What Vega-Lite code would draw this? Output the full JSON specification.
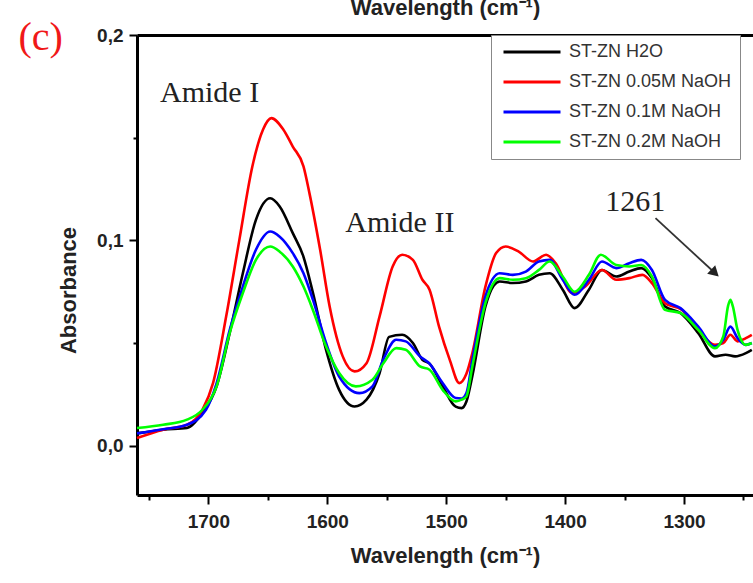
{
  "$schema": "https://vega.github.io/schema/vega-lite/v6.json",
  "autosize": {"type": "none"},
  "padding": {"left": 137, "top": 35, "right": 0, "bottom": 88},
  "width": 616,
  "height": 460,
  "background": "white",
  "config": {"view": {"stroke": null}},
  "datasets": {
    "spectra": [
      {"s": "ST-ZN H2O", "w": 1760, "a": 0.006}, {"s": "ST-ZN H2O", "w": 1738, "a": 0.0078}, {"s": "ST-ZN H2O", "w": 1718, "a": 0.0086}, {"s": "ST-ZN H2O", "w": 1705, "a": 0.016}, {"s": "ST-ZN H2O", "w": 1693, "a": 0.029}, {"s": "ST-ZN H2O", "w": 1682, "a": 0.055}, {"s": "ST-ZN H2O", "w": 1671, "a": 0.084}, {"s": "ST-ZN H2O", "w": 1660, "a": 0.11}, {"s": "ST-ZN H2O", "w": 1648, "a": 0.1205}, {"s": "ST-ZN H2O", "w": 1640, "a": 0.1165}, {"s": "ST-ZN H2O", "w": 1629, "a": 0.1035}, {"s": "ST-ZN H2O", "w": 1620, "a": 0.092}, {"s": "ST-ZN H2O", "w": 1612, "a": 0.0743}, {"s": "ST-ZN H2O", "w": 1601, "a": 0.0467}, {"s": "ST-ZN H2O", "w": 1590, "a": 0.0272}, {"s": "ST-ZN H2O", "w": 1577, "a": 0.0191}, {"s": "ST-ZN H2O", "w": 1567, "a": 0.0224}, {"s": "ST-ZN H2O", "w": 1556, "a": 0.0354}, {"s": "ST-ZN H2O", "w": 1548, "a": 0.053}, {"s": "ST-ZN H2O", "w": 1537, "a": 0.054}, {"s": "ST-ZN H2O", "w": 1528, "a": 0.05}, {"s": "ST-ZN H2O", "w": 1520, "a": 0.0418}, {"s": "ST-ZN H2O", "w": 1514, "a": 0.04}, {"s": "ST-ZN H2O", "w": 1503, "a": 0.029}, {"s": "ST-ZN H2O", "w": 1492, "a": 0.019}, {"s": "ST-ZN H2O", "w": 1487, "a": 0.0183}, {"s": "ST-ZN H2O", "w": 1483, "a": 0.0215}, {"s": "ST-ZN H2O", "w": 1478, "a": 0.034}, {"s": "ST-ZN H2O", "w": 1467, "a": 0.0678}, {"s": "ST-ZN H2O", "w": 1460, "a": 0.078}, {"s": "ST-ZN H2O", "w": 1455, "a": 0.08}, {"s": "ST-ZN H2O", "w": 1444, "a": 0.0792}, {"s": "ST-ZN H2O", "w": 1433, "a": 0.08}, {"s": "ST-ZN H2O", "w": 1422, "a": 0.0832}, {"s": "ST-ZN H2O", "w": 1413, "a": 0.084}, {"s": "ST-ZN H2O", "w": 1402, "a": 0.076}, {"s": "ST-ZN H2O", "w": 1392, "a": 0.067}, {"s": "ST-ZN H2O", "w": 1380, "a": 0.076}, {"s": "ST-ZN H2O", "w": 1369, "a": 0.0856}, {"s": "ST-ZN H2O", "w": 1357, "a": 0.0824}, {"s": "ST-ZN H2O", "w": 1346, "a": 0.0848}, {"s": "ST-ZN H2O", "w": 1336, "a": 0.0865}, {"s": "ST-ZN H2O", "w": 1327, "a": 0.0816}, {"s": "ST-ZN H2O", "w": 1316, "a": 0.0678}, {"s": "ST-ZN H2O", "w": 1303, "a": 0.0646}, {"s": "ST-ZN H2O", "w": 1288, "a": 0.0548}, {"s": "ST-ZN H2O", "w": 1274, "a": 0.0435}, {"s": "ST-ZN H2O", "w": 1265, "a": 0.0443}, {"s": "ST-ZN H2O", "w": 1257, "a": 0.0435}, {"s": "ST-ZN H2O", "w": 1248, "a": 0.0451}, {"s": "ST-ZN H2O", "w": 1243, "a": 0.0467},

      {"s": "ST-ZN 0.05M NaOH", "w": 1760, "a": 0.0037}, {"s": "ST-ZN 0.05M NaOH", "w": 1738, "a": 0.0078}, {"s": "ST-ZN 0.05M NaOH", "w": 1718, "a": 0.0102}, {"s": "ST-ZN 0.05M NaOH", "w": 1705, "a": 0.0175}, {"s": "ST-ZN 0.05M NaOH", "w": 1696, "a": 0.0306}, {"s": "ST-ZN 0.05M NaOH", "w": 1685, "a": 0.063}, {"s": "ST-ZN 0.05M NaOH", "w": 1674, "a": 0.1}, {"s": "ST-ZN 0.05M NaOH", "w": 1663, "a": 0.136}, {"s": "ST-ZN 0.05M NaOH", "w": 1654, "a": 0.154}, {"s": "ST-ZN 0.05M NaOH", "w": 1647, "a": 0.1595}, {"s": "ST-ZN 0.05M NaOH", "w": 1637, "a": 0.154}, {"s": "ST-ZN 0.05M NaOH", "w": 1629, "a": 0.1457}, {"s": "ST-ZN 0.05M NaOH", "w": 1620, "a": 0.136}, {"s": "ST-ZN 0.05M NaOH", "w": 1615, "a": 0.123}, {"s": "ST-ZN 0.05M NaOH", "w": 1606, "a": 0.0954}, {"s": "ST-ZN 0.05M NaOH", "w": 1598, "a": 0.0678}, {"s": "ST-ZN 0.05M NaOH", "w": 1587, "a": 0.0435}, {"s": "ST-ZN 0.05M NaOH", "w": 1577, "a": 0.0362}, {"s": "ST-ZN 0.05M NaOH", "w": 1567, "a": 0.0402}, {"s": "ST-ZN 0.05M NaOH", "w": 1556, "a": 0.063}, {"s": "ST-ZN 0.05M NaOH", "w": 1545, "a": 0.0873}, {"s": "ST-ZN 0.05M NaOH", "w": 1537, "a": 0.093}, {"s": "ST-ZN 0.05M NaOH", "w": 1528, "a": 0.0905}, {"s": "ST-ZN 0.05M NaOH", "w": 1520, "a": 0.0808}, {"s": "ST-ZN 0.05M NaOH", "w": 1514, "a": 0.076}, {"s": "ST-ZN 0.05M NaOH", "w": 1506, "a": 0.058}, {"s": "ST-ZN 0.05M NaOH", "w": 1497, "a": 0.0418}, {"s": "ST-ZN 0.05M NaOH", "w": 1489, "a": 0.0305}, {"s": "ST-ZN 0.05M NaOH", "w": 1483, "a": 0.035}, {"s": "ST-ZN 0.05M NaOH", "w": 1478, "a": 0.0451}, {"s": "ST-ZN 0.05M NaOH", "w": 1467, "a": 0.0775}, {"s": "ST-ZN 0.05M NaOH", "w": 1458, "a": 0.0938}, {"s": "ST-ZN 0.05M NaOH", "w": 1450, "a": 0.097}, {"s": "ST-ZN 0.05M NaOH", "w": 1439, "a": 0.0945}, {"s": "ST-ZN 0.05M NaOH", "w": 1427, "a": 0.0897}, {"s": "ST-ZN 0.05M NaOH", "w": 1416, "a": 0.093}, {"s": "ST-ZN 0.05M NaOH", "w": 1408, "a": 0.0889}, {"s": "ST-ZN 0.05M NaOH", "w": 1394, "a": 0.0743}, {"s": "ST-ZN 0.05M NaOH", "w": 1383, "a": 0.0775}, {"s": "ST-ZN 0.05M NaOH", "w": 1369, "a": 0.0856}, {"s": "ST-ZN 0.05M NaOH", "w": 1357, "a": 0.0808}, {"s": "ST-ZN 0.05M NaOH", "w": 1346, "a": 0.0816}, {"s": "ST-ZN 0.05M NaOH", "w": 1335, "a": 0.0832}, {"s": "ST-ZN 0.05M NaOH", "w": 1327, "a": 0.0792}, {"s": "ST-ZN 0.05M NaOH", "w": 1316, "a": 0.0694}, {"s": "ST-ZN 0.05M NaOH", "w": 1302, "a": 0.0662}, {"s": "ST-ZN 0.05M NaOH", "w": 1288, "a": 0.0564}, {"s": "ST-ZN 0.05M NaOH", "w": 1274, "a": 0.0491}, {"s": "ST-ZN 0.05M NaOH", "w": 1267, "a": 0.05}, {"s": "ST-ZN 0.05M NaOH", "w": 1261, "a": 0.054}, {"s": "ST-ZN 0.05M NaOH", "w": 1255, "a": 0.0508}, {"s": "ST-ZN 0.05M NaOH", "w": 1248, "a": 0.0524}, {"s": "ST-ZN 0.05M NaOH", "w": 1243, "a": 0.054},

      {"s": "ST-ZN 0.1M NaOH", "w": 1760, "a": 0.006}, {"s": "ST-ZN 0.1M NaOH", "w": 1738, "a": 0.008}, {"s": "ST-ZN 0.1M NaOH", "w": 1718, "a": 0.0102}, {"s": "ST-ZN 0.1M NaOH", "w": 1702, "a": 0.0175}, {"s": "ST-ZN 0.1M NaOH", "w": 1693, "a": 0.0305}, {"s": "ST-ZN 0.1M NaOH", "w": 1682, "a": 0.0564}, {"s": "ST-ZN 0.1M NaOH", "w": 1671, "a": 0.0775}, {"s": "ST-ZN 0.1M NaOH", "w": 1660, "a": 0.0954}, {"s": "ST-ZN 0.1M NaOH", "w": 1648, "a": 0.1043}, {"s": "ST-ZN 0.1M NaOH", "w": 1640, "a": 0.1018}, {"s": "ST-ZN 0.1M NaOH", "w": 1629, "a": 0.0938}, {"s": "ST-ZN 0.1M NaOH", "w": 1620, "a": 0.084}, {"s": "ST-ZN 0.1M NaOH", "w": 1612, "a": 0.071}, {"s": "ST-ZN 0.1M NaOH", "w": 1601, "a": 0.05}, {"s": "ST-ZN 0.1M NaOH", "w": 1590, "a": 0.0337}, {"s": "ST-ZN 0.1M NaOH", "w": 1573, "a": 0.0256}, {"s": "ST-ZN 0.1M NaOH", "w": 1562, "a": 0.0289}, {"s": "ST-ZN 0.1M NaOH", "w": 1553, "a": 0.0418}, {"s": "ST-ZN 0.1M NaOH", "w": 1542, "a": 0.0516}, {"s": "ST-ZN 0.1M NaOH", "w": 1534, "a": 0.0508}, {"s": "ST-ZN 0.1M NaOH", "w": 1522, "a": 0.0435}, {"s": "ST-ZN 0.1M NaOH", "w": 1514, "a": 0.04}, {"s": "ST-ZN 0.1M NaOH", "w": 1503, "a": 0.0305}, {"s": "ST-ZN 0.1M NaOH", "w": 1492, "a": 0.0232}, {"s": "ST-ZN 0.1M NaOH", "w": 1487, "a": 0.023}, {"s": "ST-ZN 0.1M NaOH", "w": 1483, "a": 0.0256}, {"s": "ST-ZN 0.1M NaOH", "w": 1478, "a": 0.0418}, {"s": "ST-ZN 0.1M NaOH", "w": 1467, "a": 0.0727}, {"s": "ST-ZN 0.1M NaOH", "w": 1455, "a": 0.084}, {"s": "ST-ZN 0.1M NaOH", "w": 1444, "a": 0.0832}, {"s": "ST-ZN 0.1M NaOH", "w": 1433, "a": 0.0848}, {"s": "ST-ZN 0.1M NaOH", "w": 1422, "a": 0.0897}, {"s": "ST-ZN 0.1M NaOH", "w": 1413, "a": 0.0905}, {"s": "ST-ZN 0.1M NaOH", "w": 1402, "a": 0.0808}, {"s": "ST-ZN 0.1M NaOH", "w": 1392, "a": 0.0735}, {"s": "ST-ZN 0.1M NaOH", "w": 1380, "a": 0.0808}, {"s": "ST-ZN 0.1M NaOH", "w": 1369, "a": 0.0897}, {"s": "ST-ZN 0.1M NaOH", "w": 1357, "a": 0.0865}, {"s": "ST-ZN 0.1M NaOH", "w": 1346, "a": 0.0889}, {"s": "ST-ZN 0.1M NaOH", "w": 1336, "a": 0.0905}, {"s": "ST-ZN 0.1M NaOH", "w": 1327, "a": 0.0856}, {"s": "ST-ZN 0.1M NaOH", "w": 1316, "a": 0.071}, {"s": "ST-ZN 0.1M NaOH", "w": 1303, "a": 0.067}, {"s": "ST-ZN 0.1M NaOH", "w": 1288, "a": 0.058}, {"s": "ST-ZN 0.1M NaOH", "w": 1274, "a": 0.0483}, {"s": "ST-ZN 0.1M NaOH", "w": 1267, "a": 0.0516}, {"s": "ST-ZN 0.1M NaOH", "w": 1261, "a": 0.058}, {"s": "ST-ZN 0.1M NaOH", "w": 1255, "a": 0.0524}, {"s": "ST-ZN 0.1M NaOH", "w": 1248, "a": 0.0491}, {"s": "ST-ZN 0.1M NaOH", "w": 1243, "a": 0.05},

      {"s": "ST-ZN 0.2M NaOH", "w": 1760, "a": 0.0086}, {"s": "ST-ZN 0.2M NaOH", "w": 1738, "a": 0.0102}, {"s": "ST-ZN 0.2M NaOH", "w": 1718, "a": 0.0127}, {"s": "ST-ZN 0.2M NaOH", "w": 1705, "a": 0.0175}, {"s": "ST-ZN 0.2M NaOH", "w": 1693, "a": 0.029}, {"s": "ST-ZN 0.2M NaOH", "w": 1682, "a": 0.055}, {"s": "ST-ZN 0.2M NaOH", "w": 1671, "a": 0.0743}, {"s": "ST-ZN 0.2M NaOH", "w": 1660, "a": 0.0905}, {"s": "ST-ZN 0.2M NaOH", "w": 1648, "a": 0.097}, {"s": "ST-ZN 0.2M NaOH", "w": 1640, "a": 0.0945}, {"s": "ST-ZN 0.2M NaOH", "w": 1629, "a": 0.0873}, {"s": "ST-ZN 0.2M NaOH", "w": 1620, "a": 0.0775}, {"s": "ST-ZN 0.2M NaOH", "w": 1612, "a": 0.066}, {"s": "ST-ZN 0.2M NaOH", "w": 1601, "a": 0.0483}, {"s": "ST-ZN 0.2M NaOH", "w": 1590, "a": 0.0354}, {"s": "ST-ZN 0.2M NaOH", "w": 1576, "a": 0.0289}, {"s": "ST-ZN 0.2M NaOH", "w": 1562, "a": 0.0321}, {"s": "ST-ZN 0.2M NaOH", "w": 1553, "a": 0.04}, {"s": "ST-ZN 0.2M NaOH", "w": 1542, "a": 0.0475}, {"s": "ST-ZN 0.2M NaOH", "w": 1534, "a": 0.0467}, {"s": "ST-ZN 0.2M NaOH", "w": 1522, "a": 0.0386}, {"s": "ST-ZN 0.2M NaOH", "w": 1514, "a": 0.037}, {"s": "ST-ZN 0.2M NaOH", "w": 1503, "a": 0.0272}, {"s": "ST-ZN 0.2M NaOH", "w": 1492, "a": 0.0216}, {"s": "ST-ZN 0.2M NaOH", "w": 1487, "a": 0.0224}, {"s": "ST-ZN 0.2M NaOH", "w": 1483, "a": 0.024}, {"s": "ST-ZN 0.2M NaOH", "w": 1478, "a": 0.0386}, {"s": "ST-ZN 0.2M NaOH", "w": 1467, "a": 0.0694}, {"s": "ST-ZN 0.2M NaOH", "w": 1455, "a": 0.0816}, {"s": "ST-ZN 0.2M NaOH", "w": 1444, "a": 0.0808}, {"s": "ST-ZN 0.2M NaOH", "w": 1433, "a": 0.0816}, {"s": "ST-ZN 0.2M NaOH", "w": 1422, "a": 0.0856}, {"s": "ST-ZN 0.2M NaOH", "w": 1413, "a": 0.0897}, {"s": "ST-ZN 0.2M NaOH", "w": 1402, "a": 0.0824}, {"s": "ST-ZN 0.2M NaOH", "w": 1392, "a": 0.075}, {"s": "ST-ZN 0.2M NaOH", "w": 1380, "a": 0.0832}, {"s": "ST-ZN 0.2M NaOH", "w": 1370, "a": 0.093}, {"s": "ST-ZN 0.2M NaOH", "w": 1357, "a": 0.088}, {"s": "ST-ZN 0.2M NaOH", "w": 1346, "a": 0.0873}, {"s": "ST-ZN 0.2M NaOH", "w": 1336, "a": 0.088}, {"s": "ST-ZN 0.2M NaOH", "w": 1327, "a": 0.0824}, {"s": "ST-ZN 0.2M NaOH", "w": 1316, "a": 0.0662}, {"s": "ST-ZN 0.2M NaOH", "w": 1303, "a": 0.0646}, {"s": "ST-ZN 0.2M NaOH", "w": 1288, "a": 0.0564}, {"s": "ST-ZN 0.2M NaOH", "w": 1274, "a": 0.0475}, {"s": "ST-ZN 0.2M NaOH", "w": 1267, "a": 0.0532}, {"s": "ST-ZN 0.2M NaOH", "w": 1263, "a": 0.068}, {"s": "ST-ZN 0.2M NaOH", "w": 1261, "a": 0.071}, {"s": "ST-ZN 0.2M NaOH", "w": 1259, "a": 0.068}, {"s": "ST-ZN 0.2M NaOH", "w": 1255, "a": 0.0564}, {"s": "ST-ZN 0.2M NaOH", "w": 1248, "a": 0.0491}, {"s": "ST-ZN 0.2M NaOH", "w": 1243, "a": 0.05}
    ],
    "notes": [
      {"label": "Amide I", "w": 1699, "a": 0.1675},
      {"label": "Amide II", "w": 1539, "a": 0.1043},
      {"label": "1261", "w": 1341, "a": 0.1145}
    ],
    "panel": [
      {"label": "(c)", "w": 1841, "a": 0.1925}
    ],
    "arrow": [
      {"w": 1324, "a": 0.1108, "w2": 1274, "a2": 0.0841}
    ]
  },
  "resolve": {"axis": {"x": "independent", "y": "independent"}},
  "layer": [
    {
      "data": {"name": "spectra"},
      "mark": {"type": "line", "strokeWidth": 2.6, "interpolate": "monotone"},
      "encoding": {
        "x": {
          "field": "w", "type": "quantitative",
          "scale": {"domain": [1760, 1242], "nice": false, "zero": false},
          "axis": {
            "orient": "bottom",
            "title": "Wavelength (cm⁻¹)",
            "values": [1750, 1700, 1650, 1600, 1550, 1500, 1450, 1400, 1350, 1300, 1250],
            "labelExpr": "datum.value % 100 === 0 ? format(datum.value, 'd') : ''",
            "grid": false,
            "domainColor": "#000", "domainWidth": 3,
            "tickColor": "#000", "tickWidth": 2,
            "tickSize": {"condition": {"test": "datum.value % 100 === 0", "value": 9}, "value": 5},
            "labelFont": "Liberation Sans", "labelFontWeight": "bold", "labelFontSize": 19, "labelColor": "#222",
            "labelPadding": 8, "labelFlush": false, "labelOverlap": false,
            "titleFont": "Liberation Sans", "titleFontWeight": "bold", "titleFontSize": 22, "titleColor": "#222",
            "titlePadding": 14
          }
        },
        "y": {
          "field": "a", "type": "quantitative",
          "scale": {"domain": [-0.024, 0.2], "nice": false, "zero": false},
          "axis": {
            "orient": "left",
            "title": "Absorbance",
            "values": [0, 0.05, 0.1, 0.15, 0.2],
            "labelExpr": "round(datum.value * 20) % 2 === 0 ? replace(format(datum.value, '.1f'), '.', ',') : ''",
            "grid": false,
            "domainColor": "#000", "domainWidth": 3,
            "tickColor": "#000", "tickWidth": 2,
            "tickSize": {"condition": {"test": "round(datum.value * 20) % 2 === 0", "value": 8}, "value": 4},
            "labelFont": "Liberation Sans", "labelFontWeight": "bold", "labelFontSize": 19, "labelColor": "#222",
            "labelPadding": 6, "labelFlush": false, "labelOverlap": false,
            "titleFont": "Liberation Sans", "titleFontWeight": "bold", "titleFontSize": 22, "titleColor": "#222",
            "titleAngle": -90, "titleX": -69, "titleY": 255, "titleAlign": "center", "titleBaseline": "middle"
          }
        },
        "color": {
          "field": "s", "type": "nominal",
          "scale": {
            "domain": ["ST-ZN H2O", "ST-ZN 0.05M NaOH", "ST-ZN 0.1M NaOH", "ST-ZN 0.2M NaOH"],
            "range": ["#000000", "#ff0000", "#0000ff", "#00ff00"]
          },
          "legend": {
            "orient": "none", "legendX": 354, "legendY": 0,
            "title": null,
            "symbolType": "M-5.7,0H5.7", "symbolSize": 100, "symbolStrokeWidth": 3,
            "symbolOffset": 24, "labelOffset": 28,
            "labelFont": "Liberation Sans", "labelFontSize": 18, "labelColor": "#333", "labelLimit": 400,
            "padding": 8, "rowPadding": 12,
            "strokeColor": "#888", "fillColor": "white"
          }
        }
      }
    },
    {
      "data": {"name": "notes"},
      "mark": {"type": "text", "font": "Liberation Serif", "fontSize": 30, "align": "center", "baseline": "alphabetic", "color": "#222"},
      "encoding": {
        "x": {
          "field": "w", "type": "quantitative",
          "scale": {"domain": [1760, 1242], "nice": false, "zero": false},
          "axis": {
            "orient": "top", "title": "Wavelength (cm⁻¹)",
            "labels": false, "ticks": false, "grid": false,
            "domainColor": "#000", "domainWidth": 3,
            "titleFont": "Liberation Sans", "titleFontWeight": "bold", "titleFontSize": 22, "titleColor": "#222",
            "titlePadding": 16
          }
        },
        "y": {"field": "a", "type": "quantitative", "scale": {"domain": [-0.024, 0.2], "nice": false, "zero": false}, "axis": null},
        "text": {"field": "label"}
      }
    },
    {
      "data": {"name": "panel"},
      "mark": {"type": "text", "font": "Liberation Serif", "fontSize": 40, "align": "center", "baseline": "alphabetic", "color": "#f01818"},
      "encoding": {
        "x": {"field": "w", "type": "quantitative", "scale": {"domain": [1760, 1242], "nice": false, "zero": false}, "axis": null},
        "y": {"field": "a", "type": "quantitative", "scale": {"domain": [-0.024, 0.2], "nice": false, "zero": false}, "axis": null},
        "text": {"field": "label"}
      }
    },
    {
      "data": {"name": "arrow"},
      "mark": {"type": "rule", "color": "#333", "strokeWidth": 1.8},
      "encoding": {
        "x": {"field": "w", "type": "quantitative", "scale": {"domain": [1760, 1242], "nice": false, "zero": false}, "axis": null},
        "y": {"field": "a", "type": "quantitative", "scale": {"domain": [-0.024, 0.2], "nice": false, "zero": false}, "axis": null},
        "x2": {"field": "w2"},
        "y2": {"field": "a2"}
      }
    },
    {
      "data": {"name": "arrow"},
      "mark": {"type": "point", "shape": "triangle-right", "filled": true, "size": 140, "angle": 43, "color": "#222", "opacity": 1},
      "encoding": {
        "x": {"field": "w2", "type": "quantitative", "scale": {"domain": [1760, 1242], "nice": false, "zero": false}, "axis": null},
        "y": {"field": "a2", "type": "quantitative", "scale": {"domain": [-0.024, 0.2], "nice": false, "zero": false}, "axis": null}
      }
    }
  ]
}
